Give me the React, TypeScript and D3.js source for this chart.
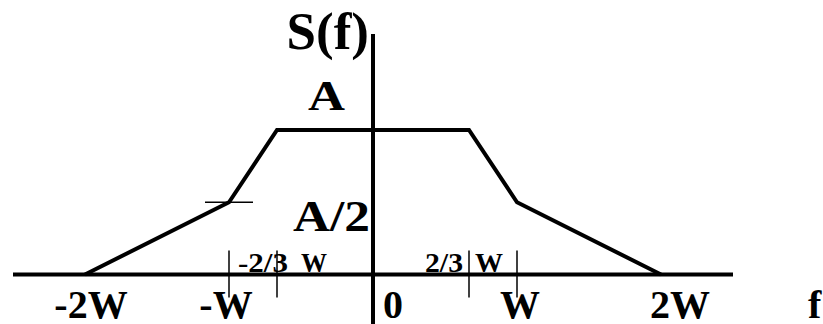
import React from 'react';
import * as d3 from 'd3';

// spectrum corners, f in units of W, S in units of A
const freqs = [-2, -1, -2 / 3, 2 / 3, 1, 2];
const levels = [0, 0.5, 1, 1, 0.5, 0];

const tickValues = [-2, -1, 0, 1, 2];
const tickLabels = ['-2W', '-W', '0', 'W', '2W'];

const minorTicks = [-1, -2 / 3, 2 / 3, 1];
const minorLabels = ['-2/3', 'W', '2/3', 'W'];

const levelLabels = ['A', 'A/2'];

const width = 823;
const height = 324;
const font = "'Liberation Serif', 'Times New Roman', serif";

export default function App() {
  const x = d3.scaleLinear().domain([-2.5, 2.5]).range([13, 733]);
  const y = d3.scaleLinear().domain([0, 1]).range([274.5, 130]);

  const pts: [number, number][] = freqs.map((f, i) => [f, levels[i]]);
  const line = d3
    .line<[number, number]>()
    .x((d) => x(d[0]))
    .y((d) => y(d[1]));

  const x0 = x(0);
  const yBase = y(0);
  const bottom = 318;
  const small = { fontSize: 28, y: yBase - 2.5, lengthAdjust: 'spacingAndGlyphs' as const };

  return (
    <svg
      width={width}
      height={height}
      style={{ position: 'absolute', left: 0, top: 0, background: '#fff' }}
    >
      <g fontFamily={font} fontWeight="bold" fill="#000">
        {/* axes */}
        <line x1={x(-2.5)} x2={x(2.5)} y1={yBase} y2={yBase} stroke="#000" strokeWidth={4} />
        <line x1={x0} x2={x0} y1={34} y2={height} stroke="#000" strokeWidth={4} />

        {/* spectrum */}
        <path d={line(pts) || ''} fill="none" stroke="#000" strokeWidth={4} />

        {/* small marks */}
        {minorTicks.map((t, i) => (
          <line
            key={'mt' + i}
            x1={x(t)}
            x2={x(t)}
            y1={yBase - 24}
            y2={yBase + 23}
            stroke="#000"
            strokeWidth={1.5}
          />
        ))}
        <line
          x1={x(-1) - 24}
          x2={x(-1) + 24}
          y1={y(0.5)}
          y2={y(0.5)}
          stroke="#000"
          strokeWidth={1.5}
        />

        {/* minor labels */}
        <text x={x(-1) + 9} textLength={50} {...small}>{minorLabels[0]}</text>
        <text x={x(-2 / 3) + 24} textLength={26} {...small}>{minorLabels[1]}</text>
        <text x={x(2 / 3) - 44} textLength={38} {...small}>{minorLabels[2]}</text>
        <text x={x(2 / 3) + 6} textLength={28} {...small}>{minorLabels[3]}</text>

        {/* tick labels */}
        {tickValues.map((t, i) => {
          const off = [6, -3, 10, 3, 19][i];
          return (
            <text
              key={'tl' + i}
              x={x(t) + off}
              y={bottom}
              fontSize={40}
              textAnchor={t === 0 ? 'start' : 'middle'}
            >
              {tickLabels[i]}
            </text>
          );
        })}
        <text x={808} y={bottom} fontSize={40}>f</text>

        {/* level labels */}
        <text x={x0 - 65} y={y(1) - 20} fontSize={43} textLength={37} lengthAdjust="spacingAndGlyphs">
          {levelLabels[0]}
        </text>
        <text x={x0 - 80} y={y(0.5) + 29} fontSize={44} textLength={77} lengthAdjust="spacingAndGlyphs">
          {levelLabels[1]}
        </text>
        <text x={x0 - 4} y={49} fontSize={53} textAnchor="end">S(f)</text>
      </g>
    </svg>
  );
}
